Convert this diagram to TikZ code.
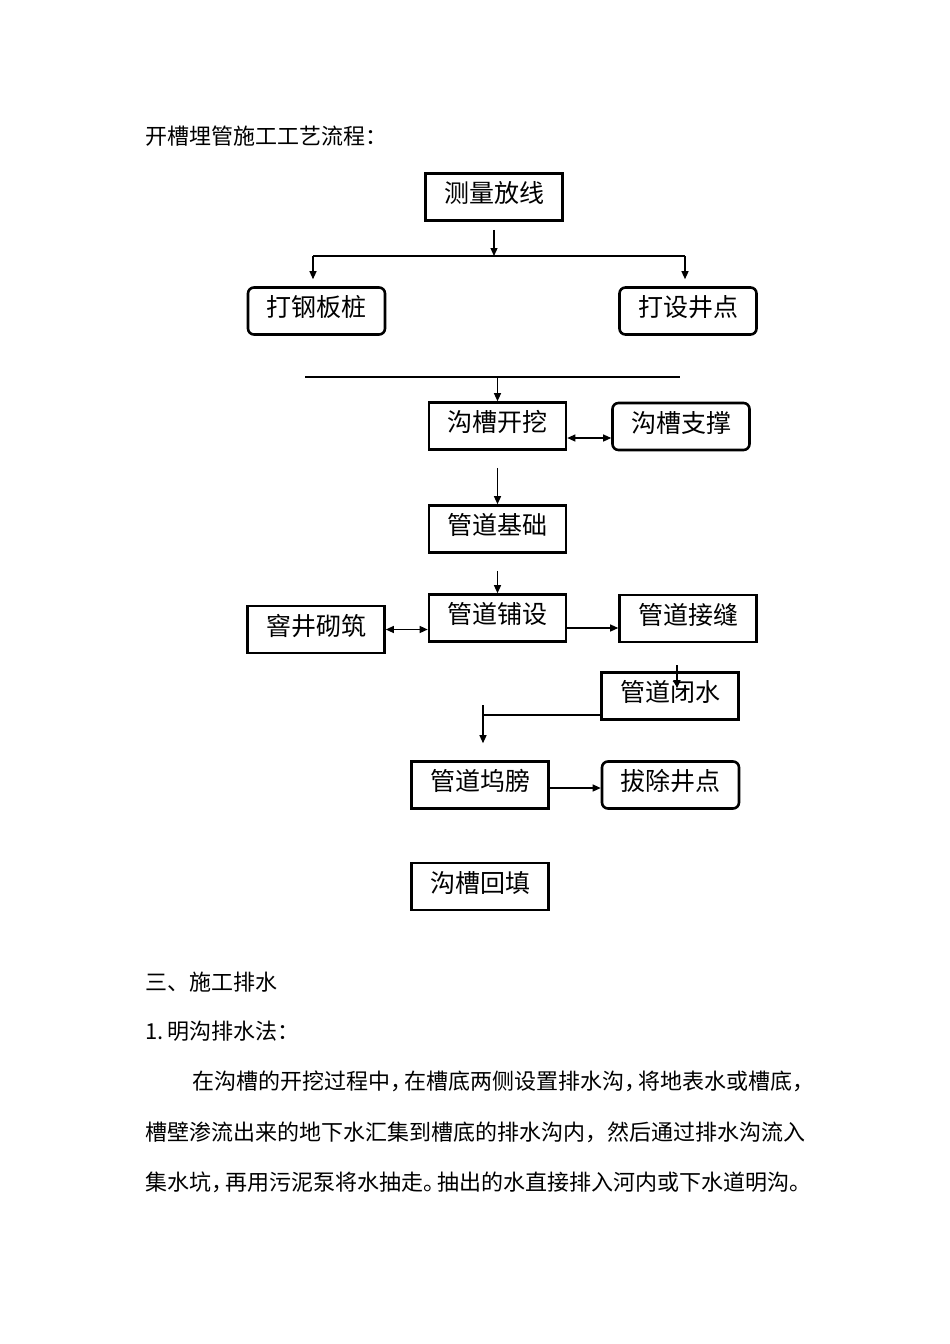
\documentclass[tikz,border=0pt]{standalone}
\usepackage{fontspec}
\usepackage{tikz}
\usetikzlibrary{arrows.meta, positioning}
\newfontfamily\cjk{Noto Sans CJK SC}
\newcommand{\hdot}{\makebox[14pt][l]{，}}
\newcommand{\hstop}{\makebox[14pt][l]{。}}
\tikzset{
  sq/.style={rectangle, draw=black, line width=2.6pt, minimum width=137pt, minimum height=47pt,
             inner sep=0pt, text height=22pt, text depth=11pt,
             font=\cjk\fontsize{25pt}{25pt}\selectfont},
  rd/.style={sq, rounded corners=6pt},
  ar/.style={-{Triangle[length=8pt,width=7pt]}, line width=1.2pt, draw=black},
  dar/.style={{Triangle[length=8pt,width=7pt]}-{Triangle[length=8pt,width=7pt]}, line width=1.2pt, draw=black},
  % 正文
  txt/.style={anchor=west, inner sep=0pt, font=\cjk\fontsize{22pt}{22pt}\selectfont}
}
\begin{document}
\begin{tikzpicture}[x=1pt,y=-1pt]
  \useasboundingbox[fill=white] (0,0) rectangle (950,1344);
  \node[txt] (title) at (145,136) {开槽埋管施工工艺流程：};

  % 流程框
  \node[sq] (clfx) at (494,197) {测量放线};
  \node[rd] (dgbz) at (316.5,311) {打钢板桩};
  \node[rd] (dsjd) at (688,311) {打设井点};
  \node[sq] (gckw) at (497.5,426) {沟槽开挖};
  \node[rd] (gczc) at (681,426.5) {沟槽支撑};
  \node[sq] (gdjc) at (497.5,529) {管道基础};
  \node[sq] (gdps) at (497.5,618) {管道铺设};
  \node[sq] (yjqz) at (316,629.5) {窨井砌筑};
  \node[sq] (gdjf) at (688,618.5) {管道接缝};
  \node[sq] (gdbs) at (670,696) {管道闭水};
  \node[sq] (gdwb) at (480,785) {管道坞膀};
  \node[rd] (bcjd) at (670.5,785) {拔除井点};
  \node[sq] (gchw) at (480,886.5) {沟槽回填};

  % 分叉
  \coordinate (fork) at (494,256);
  \coordinate (forkL) at (313,256);
  \coordinate (forkR) at (685,256);
  \draw[ar] ([yshift=-8pt]clfx.south) -- (fork);
  \draw[line width=1.2pt] (forkL) -- (forkR);
  \draw[ar] (forkL) -- ([yshift=7pt]forkL |- dgbz.north);
  \draw[ar] (forkR) -- ([yshift=7pt]forkR |- dsjd.north);

  % 横线
  \coordinate (barL) at (305,377);
  \coordinate (barR) at (680,377);
  \draw[line width=2pt] (barL) -- (barR);
  \draw[ar] (gckw.north |- barL) -- (gckw.north);
  \draw[dar] ([yshift=-12pt]gckw.east) -- ([yshift=-12pt]gckw.east -| gczc.west);
  \draw[ar] ([yshift=-17pt]gckw.south) -- (gdjc.north);
  \draw[ar] ([yshift=-17pt]gdjc.south) -- (gdps.north);
  \draw[dar] (yjqz.east) -- (yjqz.east -| gdps.west);
  \draw[ar] ([yshift=-10pt]gdps.east) -- ([yshift=-10pt]gdps.east -| gdjf.west);
  \draw[ar] ([xshift=-11pt,yshift=-22pt]gdjf.south) -- ([xshift=7pt,yshift=-17pt]gdbs.north);

  % 闭水 -> 坞膀
  \coordinate (bend) at (483,715);
  \draw[line width=1.2pt] ([yshift=-19pt]gdbs.west) -- (bend);
  \draw[ar] ([yshift=10pt]bend) -- ([xshift=3pt,yshift=17pt]gdwb.north);
  \draw[ar] ([yshift=-3pt]gdwb.east) -- ([yshift=-3pt]gdwb.east -| bcjd.west);

  % 正文
  \node[txt] (sec) at (145,982) {三、施工排水};
  \node[txt] (sub) at (145,1031) {1.\hspace{4pt}明沟排水法：};
  \node[txt] (p1) at (192,1081) {在沟槽的开挖过程中\hdot 在槽底两侧设置排水沟\hdot 将地表水或槽底，};
  \node[txt] (p2) at (145,1132) {槽壁渗流出来的地下水汇集到槽底的排水沟内，然后通过排水沟流入};
  \node[txt] (p3) at (145,1182) {集水坑\hdot 再用污泥泵将水抽走\hstop 抽出的水直接排入河内或下水道明沟。};
\end{tikzpicture}
\end{document}
